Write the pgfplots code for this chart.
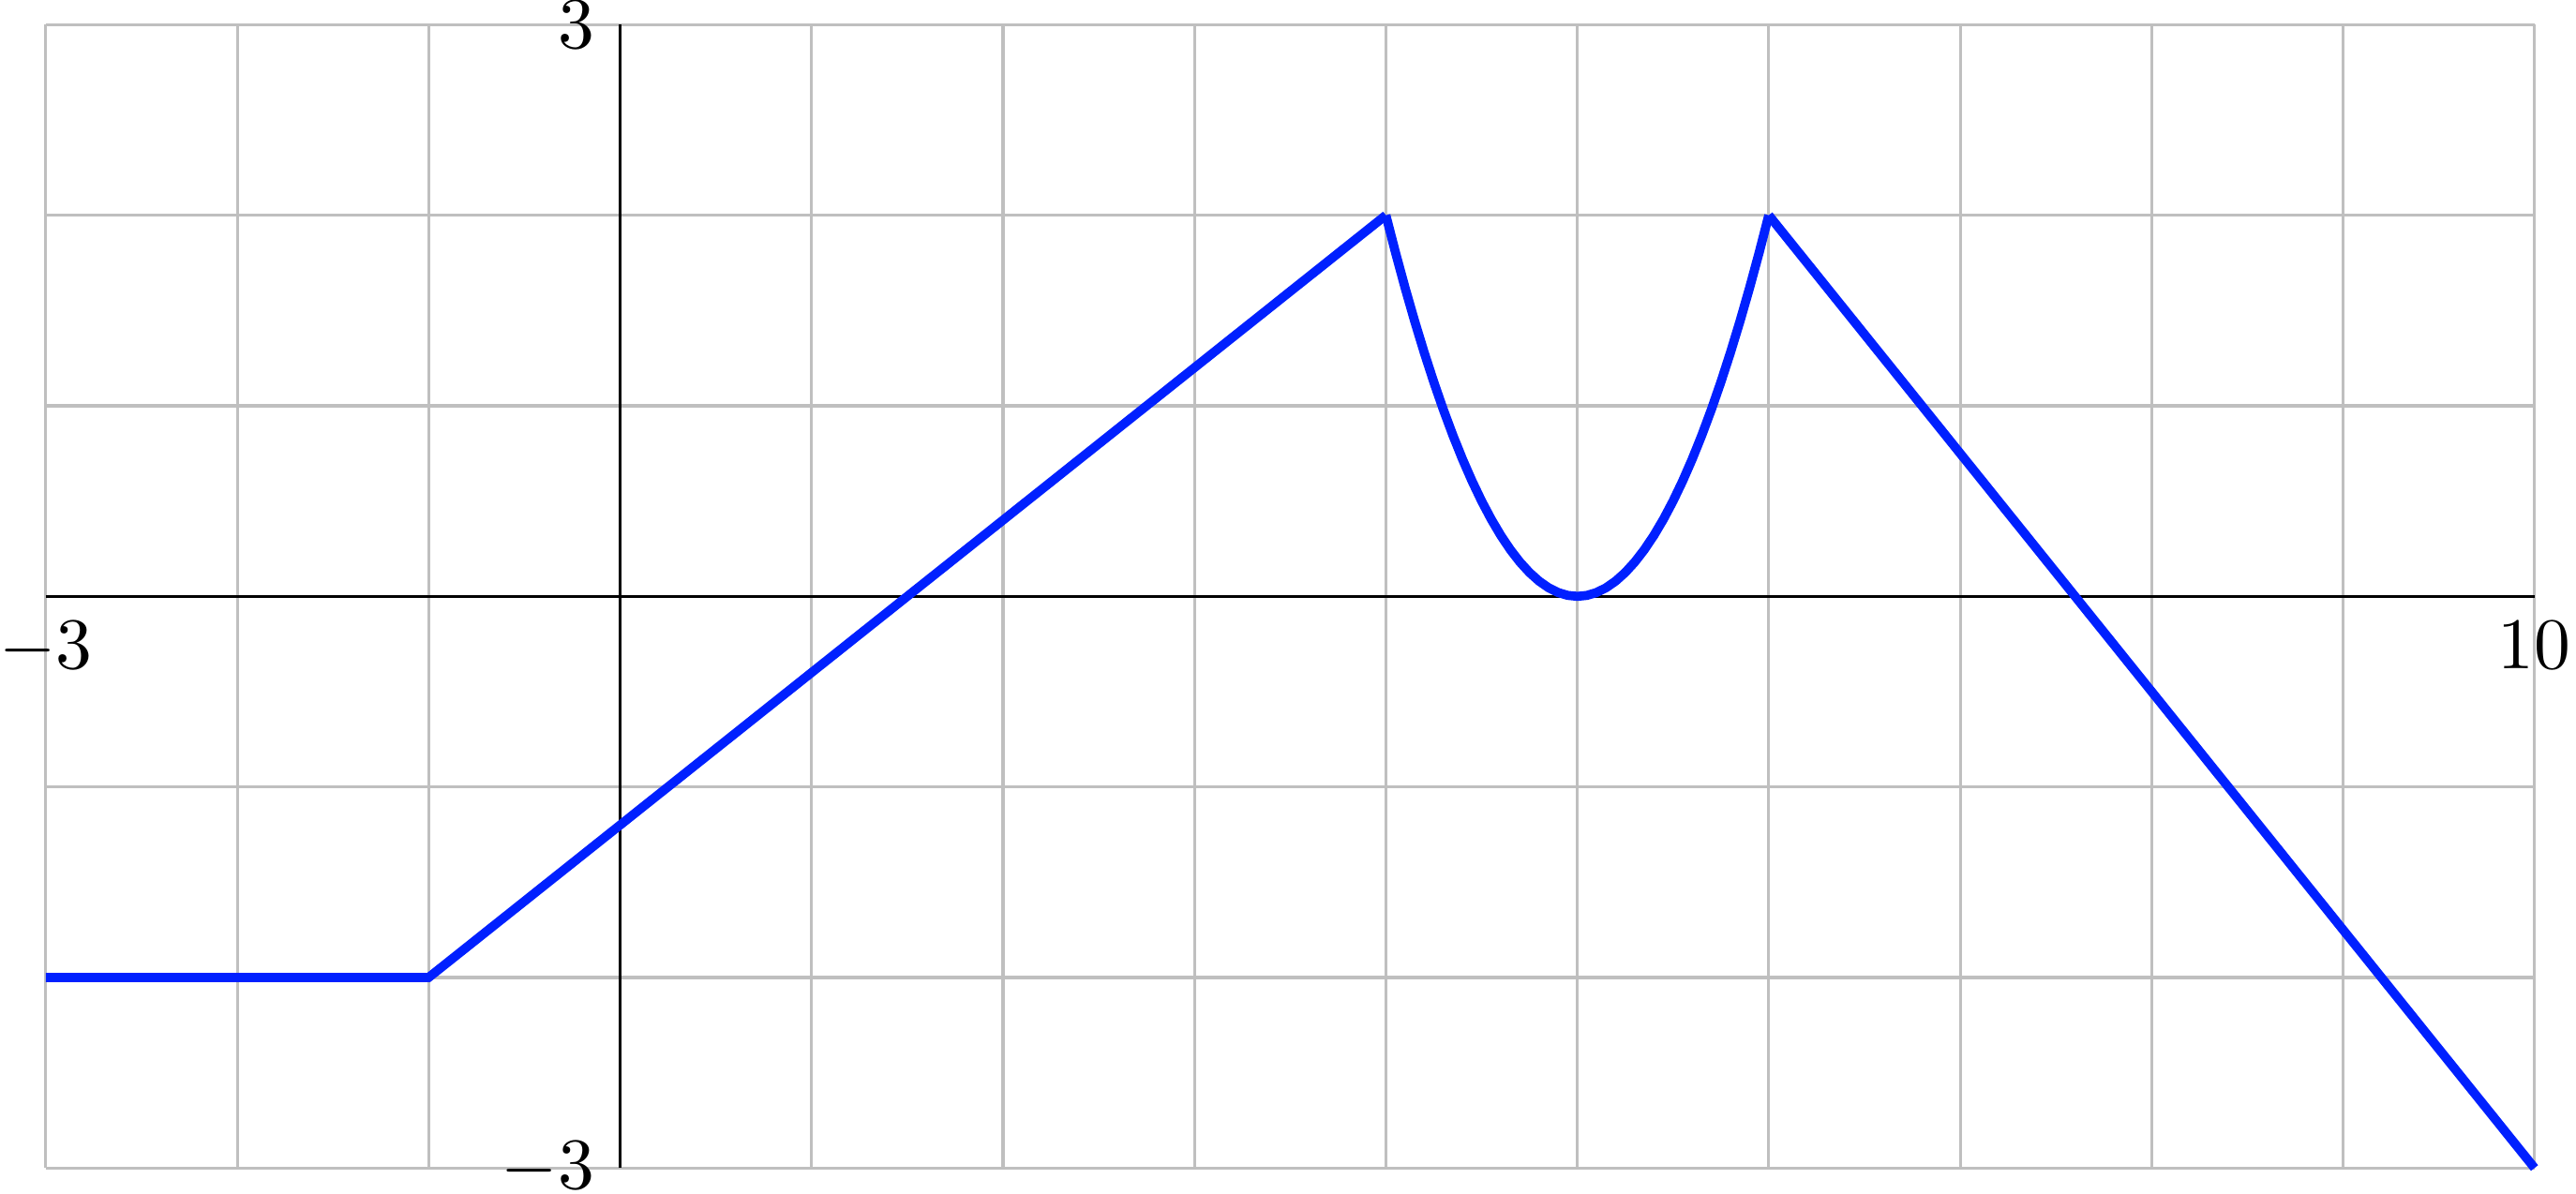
\documentclass[border=0pt]{standalone}
\usepackage{pgfplots}
\pgfplotsset{compat=1.18}
\definecolor{lineblue}{RGB}{0,32,255}
\begin{document}
\begin{tikzpicture}
\begin{axis}[
  scale only axis,
  width=342.1pt, height=157.2pt,
  xmin=-3, xmax=10, ymin=-3, ymax=3,
  axis lines=middle,
  axis line style={-, black, line width=0.4pt},
  xtick={-3,10}, ytick={-3,3},
  minor xtick={-3,...,10}, minor ytick={-3,...,3},
  grid=both,
  grid style={gray!50, line width=0.4pt},
  major grid style={gray!50, line width=0.4pt},
  minor grid style={gray!50, line width=0.4pt},
  major tick length=0pt, minor tick length=0pt,
  clip=false,
]
\addplot[lineblue, line width=1.25pt, no marks] coordinates {(-3,-2) (-1,-2) (4,2)};
\addplot[lineblue, line width=1.25pt, no marks] coordinates {
(4.00,2.000) (4.05,1.805) (4.10,1.620) (4.15,1.445) (4.20,1.280) (4.25,1.125)
(4.30,0.980) (4.35,0.845) (4.40,0.720) (4.45,0.605) (4.50,0.500) (4.55,0.405)
(4.60,0.320) (4.65,0.245) (4.70,0.180) (4.75,0.125) (4.80,0.080) (4.85,0.045)
(4.90,0.020) (4.95,0.005) (5.00,0.000) (5.05,0.005) (5.10,0.020) (5.15,0.045)
(5.20,0.080) (5.25,0.125) (5.30,0.180) (5.35,0.245) (5.40,0.320) (5.45,0.405)
(5.50,0.500) (5.55,0.605) (5.60,0.720) (5.65,0.845) (5.70,0.980) (5.75,1.125)
(5.80,1.280) (5.85,1.445) (5.90,1.620) (5.95,1.805) (6.00,2.000)};
\addplot[lineblue, line width=1.25pt, no marks] coordinates {(6,2) (10,-3)};
\end{axis}
\pgfresetboundingbox
\useasboundingbox ([shift={(-6.3pt,-3.5pt)}]current axis.south west) rectangle ([shift={(5.7pt,3.4pt)}]current axis.north east);
\end{tikzpicture}
\end{document}
